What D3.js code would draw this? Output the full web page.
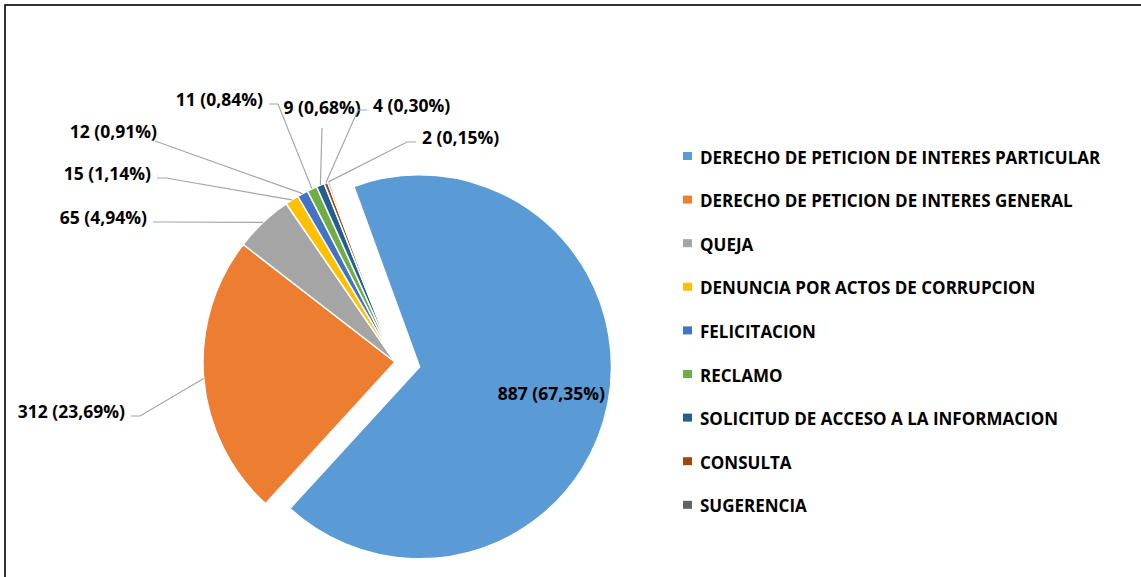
<!DOCTYPE html>
<html><head><meta charset="utf-8">
<script src="https://cdn.jsdelivr.net/npm/d3@7"></script>
<style>
body{margin:0;background:#fff}
svg{display:block}
text{font-family:"Open Sans",Lato,sans-serif;font-weight:bold;fill:#000}
</style>
</head><body>
<svg id="chart" width="1141" height="577"></svg>
<script>
// ---- data ----
const categories = [
  "DERECHO DE PETICION DE INTERES PARTICULAR",
  "DERECHO DE PETICION DE INTERES GENERAL",
  "QUEJA",
  "DENUNCIA POR ACTOS DE CORRUPCION",
  "FELICITACION",
  "RECLAMO",
  "SOLICITUD DE ACCESO A LA INFORMACION",
  "CONSULTA",
  "SUGERENCIA"
];
const values = [887, 312, 65, 15, 12, 11, 9, 4, 2];
const colors = ["#5B9BD5","#ED7D31","#A5A5A5","#FFC000","#4472C4","#70AD47","#255E91","#9E480E","#636363"];

// ---- layout ----
const W = 1141, H = 577;
const cx = 395, cy = 362, R = 192, explode = 25;
const firstSliceDeg = -20;
// label placement (layout only): text anchor point and leader type
const labelLayout = [
  null,
  {x:125, y:411, anchor:"end",    lead:"h"},
  {x:147, y:217, anchor:"end",    lead:"h"},
  {x:151, y:173, anchor:"end",    lead:"h"},
  {x:157, y:131, anchor:"end",    lead:"d"},
  {x:263, y:99,  anchor:"end",    lead:"h"},
  {x:322, y:107, anchor:"middle", lead:"v"},
  {x:373, y:105, anchor:"start",  lead:"h"},
  {x:422, y:137, anchor:"start",  lead:"h"}
];

const svg = d3.select("#chart");
svg.append("rect").attr("x", 5).attr("y", 5).attr("width", W + 50).attr("height", H + 50)
  .attr("fill", "#fff").attr("stroke", "#000").attr("stroke-width", 1.6);

const total = d3.sum(values);
const fmt = v => (v / total * 100).toFixed(2).replace(".", ",");
const data = values.map((v, i) => ({name: categories[i], value: v, color: colors[i], i}));

const a0 = firstSliceDeg * Math.PI / 180;
const pie = d3.pie().value(d => d.value).sort(null).startAngle(a0).endAngle(a0 + 2 * Math.PI);
const arcs = pie(data);
const arc = d3.arc().innerRadius(0).outerRadius(R);
const mid = d => (d.startAngle + d.endAngle) / 2;
const offset = d => d.index === 0 ? [explode * Math.sin(mid(d)), -explode * Math.cos(mid(d))] : [0, 0];

const g = svg.append("g").attr("transform", `translate(${cx},${cy})`);
g.selectAll("path.slice").data(arcs).join("path")
  .attr("class", "slice")
  .attr("transform", d => `translate(${offset(d)[0]},${offset(d)[1]})`)
  .attr("d", arc)
  .attr("fill", d => d.data.color)
  .attr("stroke", "#fff").attr("stroke-width", 1.5).attr("stroke-linejoin", "round");

// inside label for main slice
const main = arcs[0];
const mo = offset(main);
const lr = R * 0.7;
g.append("text")
  .attr("x", mo[0] + lr * Math.sin(mid(main)))
  .attr("y", mo[1] - lr * Math.cos(mid(main)))
  .attr("text-anchor", "middle").attr("dominant-baseline", "central")
  .style("font-size", "17.5px")
  .text(`${main.data.value} (${fmt(main.data.value)}%)`);

// outside labels with leader lines
arcs.slice(1).forEach(d => {
  const L = labelLayout[d.index];
  const m = mid(d);
  const ex = cx + R * Math.sin(m), ey = cy - R * Math.cos(m);
  let pts;
  if (L.lead === "h" && L.anchor === "end") pts = [[L.x + 6, L.y + 5], [L.x + 15, L.y + 5], [ex, ey]];
  else if (L.lead === "h") pts = [[L.x - 6, L.y + 5], [L.x - 15, L.y + 5], [ex, ey]];
  else if (L.lead === "d") pts = [[L.x - 2, L.y + 10], [ex, ey]];
  else pts = [[L.x, L.y + 21], [ex, ey]];
  svg.append("path").attr("d", d3.line()(pts))
    .attr("fill", "none").attr("stroke", "#A6A6A6").attr("stroke-width", 1.2);
  svg.append("text").attr("x", L.x).attr("y", L.y)
    .attr("text-anchor", L.anchor).attr("dominant-baseline", "central")
    .style("font-size", "17.5px")
    .text(`${d.data.value} (${fmt(d.data.value)}%)`);
});

// legend
const legendX = 683, legendY0 = 156, legendStep = 43.6;
const lg = svg.append("g");
data.forEach((d, i) => {
  const y = legendY0 + i * legendStep;
  lg.append("rect").attr("x", legendX).attr("y", y - 4).attr("width", 9).attr("height", 8).attr("fill", d.color);
  lg.append("text").attr("x", legendX + 17).attr("y", y + 1)
    .attr("dominant-baseline", "central").style("font-size", "17px")
    .text(d.name);
});
</script>
</body></html>
